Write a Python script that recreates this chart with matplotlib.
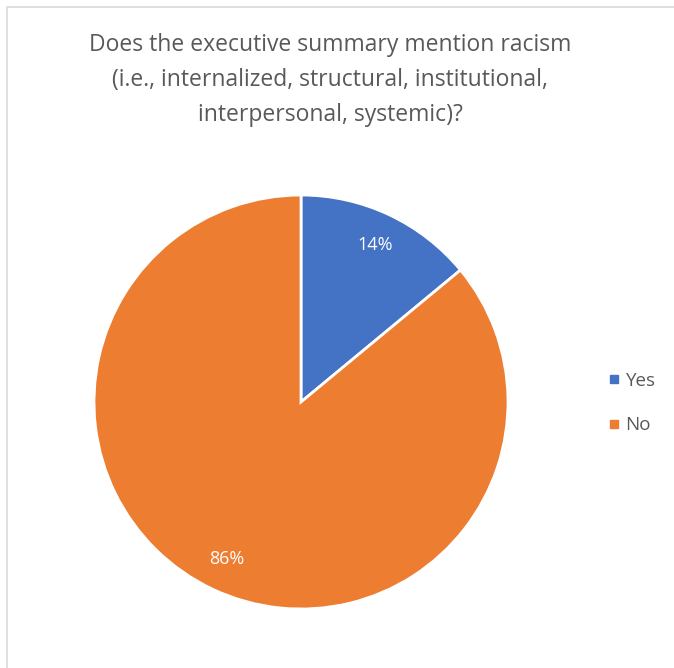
import matplotlib
matplotlib.use("Agg")
import matplotlib.pyplot as plt
from matplotlib.patches import Rectangle
from matplotlib.lines import Line2D

labels = ["Yes", "No"]
values = [14, 86]
colors = ["#4472C4", "#ED7D31"]
title = "Does the executive summary mention racism\n(i.e., internalized, structural, institutional,\ninterpersonal, systemic)?"

plt.rcParams['font.family'] = ['Open Sans', 'DejaVu Sans']

W, H = 674, 668
fig = plt.figure(figsize=(W/100, H/100), dpi=100)

# frame
fig.add_artist(Rectangle((7/W, -0.1), 1.2, (H-7)/H + 0.1, transform=fig.transFigure,
                         fill=False, edgecolor="#D9D9D9", linewidth=1.2))

cx, cy, r = 301, 402, 207
ax = fig.add_axes([(cx - r)/W, (H - cy - r)/H, 2*r/W, 2*r/H])
wedges, texts, autotexts = ax.pie(values, colors=colors, startangle=90, counterclock=False,
                                  autopct='%1.0f%%', pctdistance=0.84,
                                  wedgeprops=dict(edgecolor='white', linewidth=2),
                                  textprops=dict(color='white', fontsize=13))
ax.set_aspect('equal')
ax.set_xlim(-1, 1)
ax.set_ylim(-1, 1)

fig.text(330/W, 1 - 80/H, title, ha='center', va='center', fontsize=16.5,
         color='#595959', linespacing=1.6)

handles = [Line2D([0], [0], marker='s', linestyle='', markersize=6,
                  markerfacecolor=c, markeredgecolor=c) for c in colors]
fig.legend(handles, labels, loc='center left', bbox_to_anchor=(588/W, 1 - 403/H),
           frameon=False, fontsize=13.5, labelcolor='#595959', handletextpad=0.1,
           labelspacing=1.4, handlelength=1.0)

fig.savefig("out.png", dpi=100)
